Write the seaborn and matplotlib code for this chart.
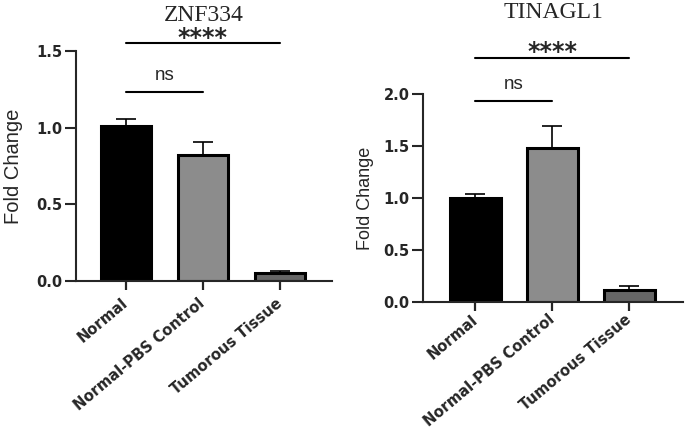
"""
seaborn: fold change bar charts (ZNF334, TINAGL1)
"""

import matplotlib
matplotlib.use("Agg")
import matplotlib.pyplot as plt
import seaborn as sns

# --------------
# data
groups = ["Normal", "Normal-PBS Control", "Tumorous Tissue"]
bar_colors = ["#000000", "#8c8c8c", "#666666"]

znf334_mean = [1.01, 0.82, 0.05]
znf334_sem = [0.045, 0.09, 0.015]
znf334_ns = 1.23
znf334_star = 1.55

tinagl1_mean = [1.00, 1.485, 0.113]
tinagl1_sem = [0.04, 0.205, 0.04]
tinagl1_ns = 1.935
tinagl1_star = 2.35

sns.set_style("ticks")
plt.rcParams["font.family"] = ["Liberation Sans", "DejaVu Sans"]

fig = plt.figure(figsize=(6.85, 4.33), dpi=100)
ax1 = fig.add_axes([0.111, 0.351, 0.374, 0.531])
ax2 = fig.add_axes([0.6175, 0.3033, 0.3796, 0.4789])


def draw_panel(ax, title, means, sems, ns_y, star_y, ymax, yticks, xlim,
               title_pad, label_size, label_pad, xtick_pad):
    sns.barplot(x=groups, y=means, hue=groups, palette=bar_colors,
                edgecolor="black", linewidth=2.2, width=0.66,
                errorbar=None, legend=False, ax=ax, zorder=2)
    # upper half of the error bar only
    ax.errorbar(range(len(groups)), means, yerr=[[0] * len(sems), sems],
                fmt="none", ecolor="black", elinewidth=1.2, capsize=7,
                capthick=1.2, zorder=3)

    ax.set_ylim(0, ymax)
    ax.set_xlim(*xlim)
    ax.set_yticks(yticks)
    ax.set_yticklabels([f"{t:.1f}" for t in yticks], fontsize=10.5,
                       fontweight="bold", family="DejaVu Sans")
    ax.set_xticks(range(len(groups)))
    ax.set_xticklabels(groups, fontsize=10.6, fontweight="bold", family="DejaVu Sans",
                       rotation=40, ha="right", va="center", rotation_mode="anchor")
    ax.tick_params(axis="y", length=8, width=1.5, pad=1.5)
    ax.tick_params(axis="x", length=6.5, width=1.6, pad=xtick_pad)
    ax.set_xlabel("")
    ax.set_ylabel("Fold Change", fontsize=label_size, labelpad=label_pad)
    sns.despine(ax=ax)
    for s in ["left", "bottom"]:
        ax.spines[s].set_linewidth(1.5)

    # significance brackets
    ax.plot([0, 1], [ns_y, ns_y], color="black", lw=1.5, clip_on=False)
    ax.annotate("ns", xy=(0.5, ns_y), xytext=(0, 6), textcoords="offset points",
                ha="center", va="bottom", fontsize=13.5, annotation_clip=False)
    ax.plot([0, 2], [star_y, star_y], color="black", lw=1.5, clip_on=False)
    ax.annotate("****", xy=(1, star_y), xytext=(0, -1), textcoords="offset points",
                ha="center", va="baseline", fontsize=17, fontweight="bold",
                family="DejaVu Sans", annotation_clip=False)

    ax.set_title(title, fontsize=17, family="Liberation Serif", pad=title_pad)


draw_panel(ax1, "ZNF334", znf334_mean, znf334_sem, znf334_ns, znf334_star,
           1.5, [0.0, 0.5, 1.0, 1.5], (-0.65, 2.68), 22, 14.5, 10, 8)
draw_panel(ax2, "TINAGL1", tinagl1_mean, tinagl1_sem, tinagl1_ns, tinagl1_star,
           2.0, [0.0, 0.5, 1.0, 1.5, 2.0], (-0.68, 2.70), 55, 13, 7, 5)

fig.savefig("out.png", dpi=100)
